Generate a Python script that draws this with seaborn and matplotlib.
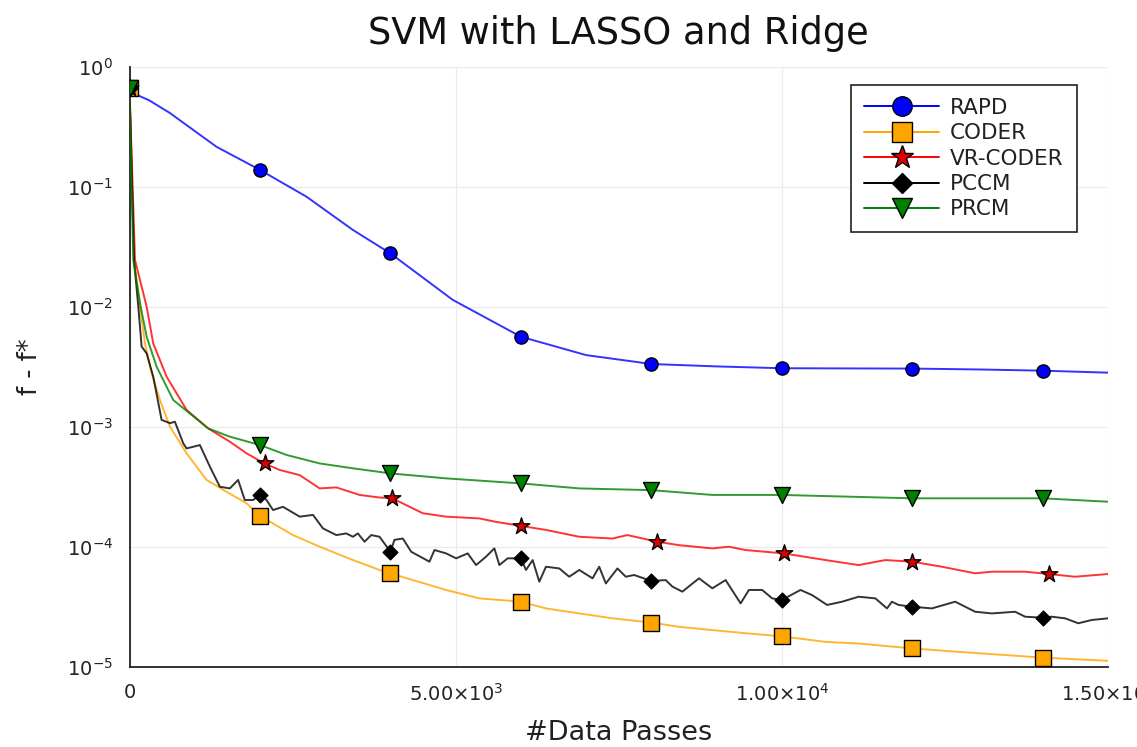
import numpy as np
import pandas as pd
import matplotlib
matplotlib.use("Agg")
import matplotlib.pyplot as plt
import seaborn as sns
from matplotlib.lines import Line2D
from matplotlib.ticker import FixedLocator, FixedFormatter, NullLocator

sns.set_theme(style="white")
plt.rcParams['font.family'] = ['DejaVu Sans']
plt.rcParams['mathtext.fontset'] = 'dejavusans'

# ---------------- data ----------------
rapd_x = [0, 300, 620, 1000, 1334, 2000, 2712, 3425, 4000, 4955, 6000, 7000,
          8000, 9000, 10000, 11000, 12000, 13000, 14000, 15000]
rapd_y = [0.62, 0.525, 0.411, 0.291, 0.215, 0.138, 0.0826, 0.0436, 0.0278, 0.0114,
          0.00562, 0.00395, 0.00333, 0.00318, 0.00307, 0.00306, 0.00305, 0.0030,
          0.00293, 0.00282]
rapd_mx = [2000, 4000, 6000, 8000, 10000, 12000, 14000]

coder_x = [0, 69, 161, 237, 339, 467, 620, 875, 1181, 1487, 1794, 2000, 2200, 2506,
           2915, 3425, 3833, 4000, 4343, 4854, 5363, 6000, 6384, 6894, 7404, 8000,
           8424, 8934, 9444, 10000, 10669, 11178, 12000, 12708, 14000, 15000]
coder_y = [0.66, 0.0245, 0.01, 0.00494, 0.00278, 0.00167, 0.001, 0.0006, 0.00036,
           0.000287, 0.00023, 0.00018, 0.000156, 0.000125, 0.0001, 7.74e-5, 6.4e-5,
           6.0e-5, 5.27e-5, 4.36e-5, 3.71e-5, 3.48e-5, 3.06e-5, 2.78e-5, 2.53e-5,
           2.33e-5, 2.15e-5, 2.02e-5, 1.9e-5, 1.79e-5, 1.61e-5, 1.56e-5, 1.42e-5,
           1.33e-5, 1.19e-5, 1.12e-5]
coder_mx = [0, 2000, 4000, 6000, 8000, 10000, 12000, 14000]

vrcoder_x = [0, 84, 263, 364, 569, 875, 1206, 1538, 1794, 2070, 2303, 2609, 2915,
             3170, 3527, 3833, 4030, 4242, 4496, 4854, 5363, 5619, 6000, 6384, 6894,
             7404, 7633, 8090, 8424, 8934, 9189, 9444, 10030, 10669, 11178, 11587,
             12000, 12453, 12964, 13219, 13729, 14090, 14494, 15000]
vrcoder_y = [0.66, 0.0245, 0.01, 0.00494, 0.00261, 0.00138, 0.000968, 0.00075, 0.0006,
             0.000494, 0.000436, 0.000395, 0.000306, 0.000312, 0.00027, 0.000257,
             0.000253, 0.000222, 0.00019, 0.000178, 0.000172, 0.000161, 0.000149,
             0.000138, 0.000121, 0.000117, 0.000125, 0.00011, 0.000103, 9.68e-5,
             1.0e-4, 9.38e-5, 8.79e-5, 7.74e-5, 7.03e-5, 7.74e-5, 7.5e-5, 6.81e-5,
             6.0e-5, 6.19e-5, 6.19e-5, 5.92e-5, 5.62e-5, 5.92e-5]
vrcoder_mx = [0, 2070, 4030, 6000, 8090, 10030, 12000, 14090]

pccm_x = [0, 69, 135, 186, 263, 364, 492, 620, 696, 824, 875, 1079, 1232, 1385, 1538,
          1665, 1767, 1894, 2000, 2100, 2200, 2353, 2609, 2813, 2966, 3170, 3323,
          3425, 3501, 3603, 3706, 3833, 4000, 4062, 4190, 4318, 4598, 4675, 4854,
          5007, 5185, 5313, 5466, 5593, 5670, 5797, 6000, 6078, 6180, 6282, 6384,
          6588, 6741, 6894, 7098, 7200, 7302, 7480, 7608, 7736, 8000, 8220, 8322,
          8475, 8730, 8934, 9138, 9368, 9495, 9699, 9852, 10000, 10286, 10464, 10694,
          10923, 11178, 11434, 11612, 11688, 11790, 12000, 12300, 12658, 12964, 13219,
          13576, 13729, 14000, 14137, 14341, 14545, 14749, 15000]
pccm_y = [0.66, 0.0245, 0.01, 0.00465, 0.00408, 0.00261, 0.00114, 0.00107, 0.0011,
          0.000726, 0.000659, 0.000703, 0.000465, 0.000316, 0.000306, 0.00036,
          0.000245, 0.000245, 0.00027, 0.000245, 0.000202, 0.000215, 0.000178,
          0.000184, 0.000142, 0.000125, 0.000129, 0.000121, 0.000129, 0.00011,
          0.000125, 0.000121, 9.08e-5, 0.000114, 0.000117, 9.08e-5, 7.5e-5, 9.38e-5,
          8.79e-5, 8.0e-5, 8.79e-5, 7.03e-5, 8.26e-5, 9.68e-5, 7.03e-5, 8.0e-5,
          8.0e-5, 6.4e-5, 7.74e-5, 5.11e-5, 6.81e-5, 6.59e-5, 5.62e-5, 6.4e-5,
          5.45e-5, 6.81e-5, 4.94e-5, 6.59e-5, 5.62e-5, 5.81e-5, 5.18e-5, 5.27e-5,
          4.65e-5, 4.22e-5, 5.45e-5, 4.5e-5, 5.27e-5, 3.37e-5, 4.36e-5, 4.36e-5,
          3.71e-5, 3.6e-5, 4.36e-5, 3.95e-5, 3.27e-5, 3.48e-5, 3.83e-5, 3.71e-5,
          3.06e-5, 3.48e-5, 3.27e-5, 3.16e-5, 3.06e-5, 3.48e-5, 2.87e-5, 2.78e-5,
          2.87e-5, 2.61e-5, 2.56e-5, 2.61e-5, 2.53e-5, 2.3e-5, 2.45e-5, 2.53e-5]
pccm_mx = [0, 2000, 4000, 6000, 8000, 10000, 12000, 14000]

prcm_x = [0, 58, 171, 263, 416, 670, 1206, 1538, 2000, 2410, 2915, 3425, 4000, 4854,
          6000, 6894, 8000, 8934, 10000, 12000, 14000, 15000]
prcm_y = [0.66, 0.0245, 0.01, 0.00562, 0.00316, 0.00167, 0.000968, 0.000826, 0.000703,
          0.000581, 0.000494, 0.00045, 0.000408, 0.000371, 0.000337, 0.000306,
          0.000296, 0.00027, 0.00027, 0.000253, 0.000253, 0.000237]
prcm_mx = [0, 2000, 4000, 6000, 8000, 10000, 12000, 14000]

series_names = ["RAPD", "CODER", "VR-CODER", "PCCM", "PRCM"]
x_ticks = [0, 5000, 10000, 15000]
x_tick_labels = ["0", r"$5.00{\times}10^{3}$", r"$1.00{\times}10^{4}$", r"$1.50{\times}10^{4}$"]
y_ticks = [1e-5, 1e-4, 1e-3, 1e-2, 1e-1, 1e0]
y_tick_labels = [r"$10^{-5}$", r"$10^{-4}$", r"$10^{-3}$", r"$10^{-2}$", r"$10^{-1}$", r"$10^{0}$"]

# ---------------- styling ----------------
styles = {
    "RAPD":     dict(line="#0000ff", face="#0000ff", marker="o", s=9.5 ** 2, lms=14),
    "CODER":    dict(line="#ffa500", face="#ffa500", marker="s", s=11 ** 2, lms=14),
    "VR-CODER": dict(line="#ff0000", face="#dd0000", marker="*", s=12.5 ** 2, lms=17),
    "PCCM":     dict(line="#000000", face="#000000", marker="D", s=7.5 ** 2, lms=10.5),
    "PRCM":     dict(line="#008000", face="#008000", marker="v", s=11.5 ** 2, lms=15),
}
data = {
    "RAPD": (rapd_x, rapd_y, rapd_mx),
    "CODER": (coder_x, coder_y, coder_mx),
    "VR-CODER": (vrcoder_x, vrcoder_y, vrcoder_mx),
    "PCCM": (pccm_x, pccm_y, pccm_mx),
    "PRCM": (prcm_x, prcm_y, prcm_mx),
}

fig = plt.figure(figsize=(11.37, 7.47), dpi=100)
ax = fig.add_axes([0.1139, 0.1075, 0.8606, 0.80321])

for i, name in enumerate(series_names):
    xs, ys, mx = data[name]
    st = styles[name]
    df = pd.DataFrame({"x": xs, "y": ys})
    sns.lineplot(data=df, x="x", y="y", ax=ax, color=st["line"], lw=1.4, alpha=0.8,
                 estimator=None, sort=False, legend=False, zorder=2 + i)
    mdf = pd.DataFrame({"x": mx, "y": [ys[xs.index(v)] for v in mx]})
    sns.scatterplot(data=mdf, x="x", y="y", ax=ax, marker=st["marker"], s=st["s"],
                    color=st["face"], edgecolor="black", linewidth=1.0, legend=False,
                    zorder=2.5 + i)

ax.set_yscale("log")
ax.set_xlim(0, 15000)
ax.set_ylim(1e-5, 1e0)
ax.xaxis.set_major_locator(FixedLocator(x_ticks))
ax.xaxis.set_major_formatter(FixedFormatter(x_tick_labels))
ax.yaxis.set_major_locator(FixedLocator(y_ticks))
ax.yaxis.set_major_formatter(FixedFormatter(y_tick_labels))
ax.yaxis.set_minor_locator(NullLocator())
ax.xaxis.set_minor_locator(NullLocator())

ax.grid(True, color="#ebebeb", lw=0.9)
ax.set_axisbelow(True)
for sp in ["top", "right"]:
    ax.spines[sp].set_visible(False)
for sp in ["left", "bottom"]:
    ax.spines[sp].set_color("#222222")
    ax.spines[sp].set_linewidth(1.3)
ax.tick_params(axis="both", direction="in", length=6, width=1.1, color="#222222",
               labelsize=14, labelcolor="#222222")
ax.tick_params(axis="x", pad=12)
ax.tick_params(axis="y", pad=12)

ax.set_xlabel("#Data Passes", fontsize=19.5, color="#222222")
ax.set_ylabel("f - f*", fontsize=18.5, color="#222222")
ax.xaxis.set_label_coords(0.5, -0.1105)
ax.xaxis.label.set_va("center")
ax.yaxis.set_label_coords(-0.1017, 0.5)
ax.yaxis.label.set_va("center")

fig.text(0.5442, 1 - 33 / 747, "SVM with LASSO and Ridge", fontsize=26.5,
         ha="center", va="center", color="#111111")

handles = []
for name in series_names:
    st = styles[name]
    handles.append(Line2D([0], [0], color=st["line"], lw=1.4, marker=st["marker"],
                          markersize=st["lms"], markerfacecolor=st["face"],
                          markeredgecolor="black", markeredgewidth=1.0))
leg = ax.legend(handles, series_names, loc="upper right", bbox_to_anchor=(0.968, 0.9695),
                borderaxespad=0, fontsize=15.5, handlelength=3.5, labelspacing=0.25,
                handletextpad=0.5, borderpad=0.6, fancybox=False, framealpha=1,
                edgecolor="#222222")
leg.get_frame().set_linewidth(1.2)
for t in leg.get_texts():
    t.set_color("#222222")

fig.savefig("out.png", dpi=100)
